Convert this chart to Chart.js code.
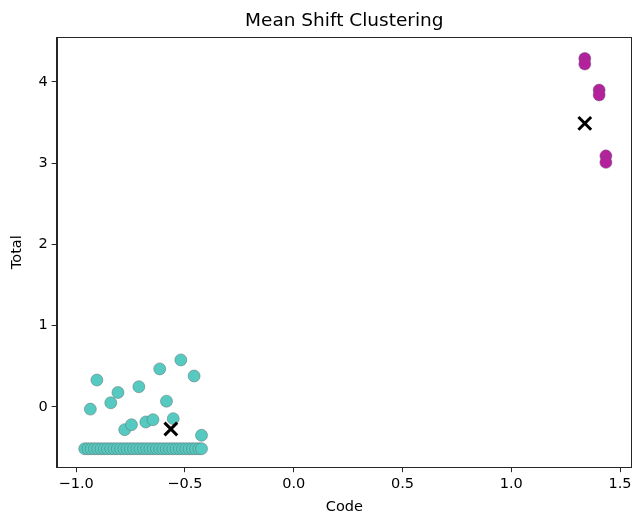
<!DOCTYPE html>
<html>
<head>
<meta charset="utf-8">
<script src="https://cdn.jsdelivr.net/npm/chart.js@4/dist/chart.umd.min.js"></script>
<style>
  html, body { margin: 0; padding: 0; background: #fff; overflow: hidden; }
  #wrap { width: 644px; height: 516px; }
</style>
</head>
<body>
<div id="wrap"><canvas id="chart"></canvas></div>
<script>
// cluster 0 (teal)
const codeA = [-0.905, -0.935, -0.808, -0.841, -0.712, -0.616, -0.519, -0.458, -0.585, -0.777, -0.746, -0.680, -0.647, -0.554, -0.424,
  -0.961, -0.946, -0.931, -0.916, -0.901, -0.886, -0.871, -0.856, -0.841, -0.826, -0.811, -0.796, -0.781, -0.766, -0.751, -0.736,
  -0.721, -0.706, -0.691, -0.676, -0.661, -0.646, -0.631, -0.616, -0.601, -0.586, -0.571, -0.556, -0.541, -0.526, -0.511, -0.496,
  -0.481, -0.466, -0.451, -0.436, -0.424];
const totalA = [0.33, -0.028, 0.177, 0.05, 0.248, 0.467, 0.578, 0.38, 0.07, -0.281, -0.22, -0.186, -0.158, -0.145, -0.35,
  -0.516, -0.516, -0.516, -0.516, -0.516, -0.516, -0.516, -0.516, -0.516, -0.516, -0.516, -0.516, -0.516, -0.516, -0.516, -0.516,
  -0.516, -0.516, -0.516, -0.516, -0.516, -0.516, -0.516, -0.516, -0.516, -0.516, -0.516, -0.516, -0.516, -0.516, -0.516, -0.516,
  -0.516, -0.516, -0.516, -0.516, -0.516];

// cluster 1 (magenta)
const codeB = [1.338, 1.338, 1.404, 1.404, 1.435, 1.435];
const totalB = [4.29, 4.22, 3.90, 3.84, 3.09, 3.01];

// cluster centers
const centerCode = [-0.565, 1.338];
const centerTotal = [-0.273, 3.49];

const xTicks = [-1.0, -0.5, 0.0, 0.5, 1.0, 1.5];
const yTicks = [0, 1, 2, 3, 4];

function pts(xs, ys) {
  return xs.map((x, i) => ({ x: x, y: ys[i] }));
}

const boxPlugin = {
  id: 'box',
  afterDraw(chart) {
    const a = chart.chartArea;
    const ctx = chart.ctx;
    ctx.save();
    ctx.strokeStyle = '#262626';
    ctx.lineWidth = 1;
    ctx.strokeRect(Math.round(a.left) + 0.5, Math.round(a.top) + 0.5, Math.round(a.right - a.left) - 1, Math.round(a.bottom - a.top));
    ctx.restore();
  }
};

const font = { family: 'DejaVu Sans', size: 14.5 };

new Chart(document.getElementById('chart'), {
  type: 'scatter',
  data: {
    datasets: [
      {
        data: pts(codeA, totalA),
        backgroundColor: '#56cac1',
        borderColor: 'rgba(90,110,110,0.7)',
        borderWidth: 0.7,
        pointRadius: 6,
        order: 3
      },
      {
        data: pts(codeB, totalB),
        backgroundColor: '#b5219c',
        borderColor: 'rgba(110,80,120,0.7)',
        borderWidth: 0.7,
        pointRadius: 6,
        order: 2
      },
      {
        data: pts(centerCode, centerTotal),
        pointStyle: 'crossRot',
        borderColor: '#000',
        backgroundColor: '#000',
        borderWidth: 3,
        pointRadius: 9,
        order: 1
      }
    ]
  },
  options: {
    responsive: true,
    maintainAspectRatio: false,
    animation: false,
    layout: { padding: { left: 9, right: 0, top: 0, bottom: 0 } },
    plugins: {
      legend: { display: false },
      tooltip: { enabled: false },
      title: {
        display: true,
        fullSize: false,
        text: 'Mean Shift Clustering',
        color: '#000',
        font: { family: 'DejaVu Sans', size: 18.5, weight: 'normal' },
        padding: { top: 10, bottom: 5 }
      }
    },
    scales: {
      x: {
        min: -1.09,
        max: 1.555,
        afterBuildTicks: s => { s.ticks = xTicks.map(v => ({ value: v })); },
        ticks: { color: '#000', font: font, padding: 3, maxRotation: 0, callback: v => v.toFixed(1).replace('-', '\u2212') },
        grid: { drawOnChartArea: false, drawTicks: true, tickLength: 5, color: '#262626' },
        border: { display: true, color: '#262626' },
        title: { display: true, text: 'Code', color: '#000', font: font, padding: { top: 3, bottom: 0 } }
      },
      y: {
        min: -0.743,
        max: 4.551,
        afterBuildTicks: s => { s.ticks = yTicks.map(v => ({ value: v })); },
        ticks: { color: '#000', font: font, padding: 4, callback: v => String(v) },
        grid: { drawOnChartArea: false, drawTicks: true, tickLength: 5, color: '#262626' },
        border: { display: true, color: '#262626' },
        title: { display: true, text: 'Total', color: '#000', font: font, padding: { top: 0, bottom: 8 } }
      }
    }
  },
  plugins: [boxPlugin]
});
</script>
</body>
</html>
